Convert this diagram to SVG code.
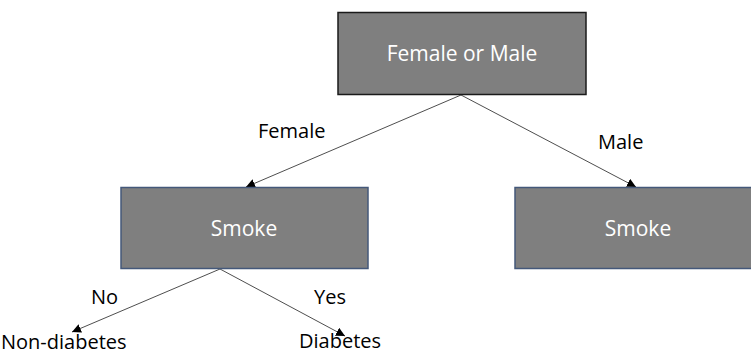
<svg xmlns="http://www.w3.org/2000/svg" width="751" height="356" viewBox="0 0 751 356">
  <style>
    .box { fill: #7f7f7f; stroke-width: 1.5; }
    .root { stroke: #1a1a1a; }
    .child { stroke: #44587a; }
    .ntext { font-family: "Open Sans", "Liberation Sans", sans-serif; font-size: 21px; fill: #ffffff; text-anchor: middle; }
    .label { font-family: "Open Sans", "Liberation Sans", sans-serif; font-size: 20px; fill: #000000; }
    .edge { stroke: #3a3a3a; stroke-width: 0.9; fill: none; marker-end: url(#arrow); }
  </style>
  <defs>
    <marker id="arrow" viewBox="0 0 10 10" refX="10" refY="5" markerWidth="9" markerHeight="9" markerUnits="userSpaceOnUse" orient="auto">
      <path d="M0,0 L10,5 L0,10 Z" fill="#000000"/>
    </marker>
  </defs>
  <rect width="751" height="356" fill="#ffffff"/>

  <g id="connectors">
    <line class="edge" x1="461" y1="95" x2="246" y2="187"/>
    <line class="edge" x1="461" y1="95" x2="636" y2="187"/>
    <line class="edge" x1="220" y1="269" x2="72" y2="332"/>
    <line class="edge" x1="220" y1="269" x2="345" y2="336"/>
    <text class="label" x="258" y="138">Female</text>
    <text class="label" x="598" y="149">Male</text>
    <text class="label" x="91" y="304">No</text>
    <text class="label" x="314" y="304">Yes</text>
  </g>

  <g id="node-root">
    <rect class="box root" x="338" y="12.5" width="248" height="82"/>
    <text class="ntext" x="462" y="61">Female or Male</text>
  </g>

  <g id="node-smoke-female">
    <rect class="box child" x="121" y="187.5" width="247" height="81"/>
    <text class="ntext" x="244" y="236">Smoke</text>
  </g>

  <g id="node-smoke-male">
    <rect class="box child" x="515" y="187.5" width="246" height="81"/>
    <text class="ntext" x="638" y="236">Smoke</text>
  </g>

  <g id="node-non-diabetes">
    <text class="label" x="1" y="349">Non-diabetes</text>
  </g>

  <g id="node-diabetes">
    <text class="label" x="299" y="348">Diabetes</text>
  </g>
</svg>
